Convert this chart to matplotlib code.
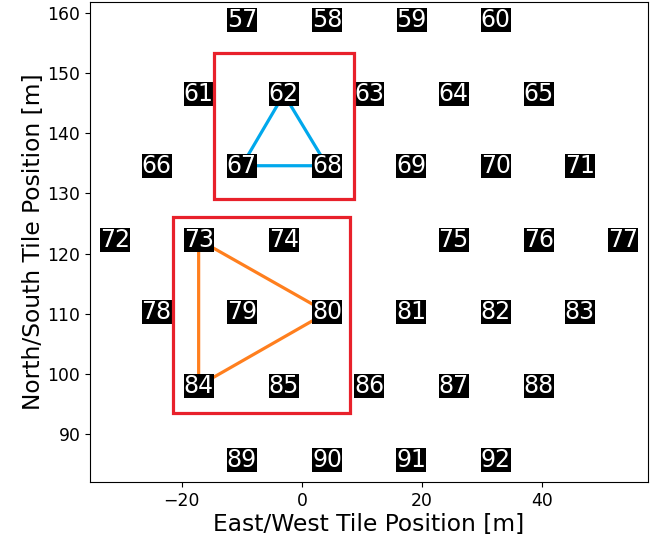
import matplotlib.pyplot as plt
from matplotlib.patches import Rectangle

# tile numbers and their east/west, north/south positions [m]
tile_ids = [57, 58, 59, 60,
            61, 62, 63, 64, 65,
            66, 67, 68, 69, 70, 71,
            72, 73, 74, 75, 76, 77,
            78, 79, 80, 81, 82, 83,
            84, 85, 86, 87, 88,
            89, 90, 91, 92]
tile_x = [-10.0, 4.2, 18.3, 32.3,
          -17.2, -3.0, 11.2, 25.3, 39.5,
          -24.2, -10.0, 4.2, 18.2, 32.3, 46.3,
          -31.2, -17.2, -3.0, 25.3, 39.5, 53.5,
          -24.2, -10.0, 4.2, 18.2, 32.3, 46.3,
          -17.2, -3.0, 11.2, 25.3, 39.5,
          -10.0, 4.2, 18.2, 32.3]
tile_y = [158.8] * 4 + [146.5] * 5 + [134.6] * 6 + [122.3] * 6 + [110.2] * 6 + [98.0] * 5 + [85.7] * 4

# baselines (triangles) and the groups boxed in red
tri_blue = [62, 67, 68]
tri_orange = [73, 80, 84]
box_small = (-14.7, 129.0, 23.4, 24.3)   # x0, y0, width, height
box_large = (-21.45, 93.4, 29.45, 32.7)

pos = {t: (x, y) for t, x, y in zip(tile_ids, tile_x, tile_y)}

fig = plt.figure(figsize=(6.62, 5.41), dpi=100)
ax = fig.add_axes([0.136, 0.109, 0.843, 0.887])

for tri, col in [(tri_blue, '#00a8ec'), (tri_orange, '#ff7f1e')]:
    xs = [pos[t][0] for t in tri + tri[:1]]
    ys = [pos[t][1] for t in tri + tri[:1]]
    ax.plot(xs, ys, color=col, lw=2.3, zorder=2)

for t in tile_ids:
    x, y = pos[t]
    ax.text(x, y, str(t), color='white', fontsize=17, ha='center', va='center',
            bbox=dict(boxstyle='square,pad=0', fc='black', ec='none'), zorder=3)

for b in [box_small, box_large]:
    ax.add_patch(Rectangle(b[:2], b[2], b[3], fill=False, ec='#e8212b', lw=2.3, zorder=4))

ax.set_xlim(-35.3, 57.7)
ax.set_ylim(82.0, 161.8)
ax.tick_params(labelsize=12.4)
ax.set_xlabel('East/West Tile Position [m]', fontsize=16.8, labelpad=2)
ax.set_ylabel('North/South Tile Position [m]', fontsize=16.8, labelpad=2)

plt.savefig('out.png')
